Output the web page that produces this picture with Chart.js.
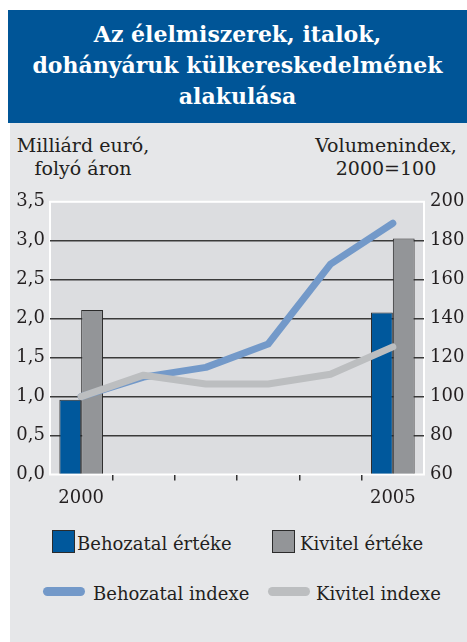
<!DOCTYPE html>
<html><head><meta charset="utf-8">
<script src="https://cdn.jsdelivr.net/npm/chart.js@4/dist/chart.umd.min.js"></script>
<style>
html,body{margin:0;padding:0;background:#fff;width:467px;height:642px;overflow:hidden;font-family:"DejaVu Serif",serif;color:#231f20}
#title{position:absolute;left:8px;top:10px;width:459px;height:113px;background:#005597;color:#fff;font-weight:bold;font-size:22px;line-height:31px;text-align:center;box-sizing:border-box;padding-top:9px}
#frame{position:absolute;left:10px;top:123px;width:457px;height:519px;background:#e6e7e9}
.at{position:absolute;font-size:19px;line-height:23px;text-align:center;top:134px;white-space:nowrap}
#cv{position:absolute;left:10px;top:185px}
.lt{position:absolute;font-size:18px;line-height:22px;white-space:nowrap}
.box{position:absolute;width:23px;height:23px;box-sizing:border-box;border:1.5px solid #2b2b2b}
.ln{position:absolute;width:42px;height:9px;border-radius:4.5px}
</style></head>
<body>
<div id="title">Az élelmiszerek, italok,<br>dohányáruk külkereskedelmének<br>alakulása</div>
<div id="frame"></div>
<div class="at" style="left:13px;width:140px">Milliárd euró,<br>folyó áron</div>
<div class="at" style="left:306px;width:160px">Volumenindex,<br>2000=100</div>
<canvas id="cv" width="457" height="330"></canvas>
<div class="box" style="left:52px;top:530px;background:#00589c"></div>
<div class="lt" style="left:77px;top:533px">Behozatal értéke</div>
<div class="box" style="left:272px;top:530px;background:#939598"></div>
<div class="lt" style="left:300px;top:533px">Kivitel értéke</div>
<div class="ln" style="left:43px;top:587px;background:#7399c9"></div>
<div class="lt" style="left:93px;top:583px">Behozatal indexe</div>
<div class="ln" style="left:268px;top:587px;background:#bcbec0"></div>
<div class="lt" style="left:316px;top:583px">Kivitel indexe</div>
<script>
const years = ['2000','2001','2002','2003','2004','2005'];
const shownYears = ['2000','2005'];
const importValue = [0.96, null, null, null, null, 2.08];
const exportValue = [2.11, null, null, null, null, 3.03];
const importIndex = [100, 110, 115, 127, 168, 189];
const exportIndex = [100, 111, 106.5, 106.5, 111.5, 125.5];
const leftTicks = [0, 0.5, 1, 1.5, 2, 2.5, 3, 3.5];
const rightTicks = [60, 80, 100, 120, 140, 160, 180, 200];

const FONT = {family:'"DejaVu Serif", serif', size:18};
const plotBg = {
  id:'plotBg',
  beforeDraw(chart){
    const {ctx, chartArea:a} = chart;
    ctx.save();
    ctx.fillStyle = '#dcdde0';
    ctx.fillRect(a.left, a.top, a.right-a.left, a.bottom-a.top);
    ctx.strokeStyle = '#ffffff';
    ctx.lineWidth = 2;
    ctx.strokeRect(a.left, a.top, a.right-a.left, a.bottom-a.top);
    ctx.restore();
  }
};

new Chart(document.getElementById('cv'), {
  type:'bar',
  data:{
    labels: years,
    datasets:[
      {type:'line', label:'Kivitel indexe', data:exportIndex, yAxisID:'y2', borderColor:'#bcbec0', borderWidth:7, pointRadius:0, borderCapStyle:'round', borderJoinStyle:'round', tension:0, order:0},
      {type:'line', label:'Behozatal indexe', data:importIndex, yAxisID:'y2', borderColor:'#7399c9', borderWidth:7, pointRadius:0, borderCapStyle:'round', borderJoinStyle:'round', tension:0, order:1},
      {label:'Behozatal értéke', data:importValue, yAxisID:'y', backgroundColor:'#00589c', borderColor:'#2b2b2b', borderWidth:1, categoryPercentage:0.7, barPercentage:1.0, order:2},
      {label:'Kivitel értéke', data:exportValue, yAxisID:'y', backgroundColor:'#939598', borderColor:'#2b2b2b', borderWidth:1, categoryPercentage:0.7, barPercentage:1.0, order:3}
    ]
  },
  options:{
    responsive:false, animation:false, devicePixelRatio:1,
    layout:{padding:{top:15,left:0,right:0,bottom:0}},
    plugins:{legend:{display:false}, tooltip:{enabled:false}},
    scales:{
      x:{
        offset:true,
        afterFit(s){ s.height = 40.5; },
        border:{display:false},
        grid:{offset:true, drawOnChartArea:false, drawTicks:true, tickLength:6, lineWidth:1.5,
          color:(c)=> (c.index===undefined || c.index===0) ? 'rgba(0,0,0,0)' : '#333'},
        ticks:{autoSkip:false, maxRotation:0, padding:7, color:'#231f20', font:FONT,
          callback:function(v,i){ const l = years[i]; return shownYears.includes(l) ? l : ''; }}
      },
      y:{
        position:'left', min:0, max:3.5,
        afterFit(s){ s.width = 40; },
        afterBuildTicks(s){ s.ticks = leftTicks.map(v=>({value:v})); },
        border:{display:false},
        grid:{drawTicks:false, lineWidth:1.5, color:(c)=> (c.tick && (c.tick.value===0 || c.tick.value===3.5)) ? 'rgba(0,0,0,0)' : '#3a3a3a'},
        ticks:{padding:5, color:'#231f20', font:FONT, callback:(v)=> v.toFixed(1).replace('.', ',')}
      },
      y2:{
        position:'right', min:60, max:200,
        afterFit(s){ s.width = 43; },
        afterBuildTicks(s){ s.ticks = rightTicks.map(v=>({value:v})); },
        border:{display:false},
        grid:{display:false, drawTicks:false},
        ticks:{padding:6, color:'#231f20', font:FONT, callback:(v)=> String(v)}
      }
    }
  },
  plugins:[plotBg]
});
</script>
</body></html>
